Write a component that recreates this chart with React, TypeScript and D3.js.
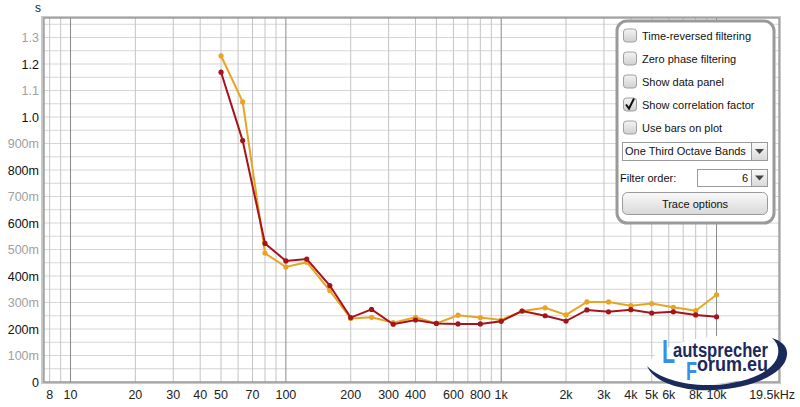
import React from "react";
import * as d3 from "d3";

// one-third octave band centres (Hz)
const bands = [50, 63, 80, 100, 125, 160, 200, 250, 315, 400, 500, 630, 800, 1000, 1250, 1600, 2000, 2500, 3150, 4000, 5000, 6300, 8000, 10000];
const redSeries = [1.169, 0.911, 0.523, 0.457, 0.464, 0.364, 0.243, 0.274, 0.218, 0.234, 0.221, 0.219, 0.219, 0.229, 0.268, 0.25, 0.23, 0.272, 0.265, 0.273, 0.26, 0.265, 0.253, 0.246];
const orangeSeries = [1.231, 1.057, 0.486, 0.434, 0.452, 0.345, 0.24, 0.244, 0.224, 0.244, 0.221, 0.252, 0.243, 0.234, 0.268, 0.28, 0.253, 0.302, 0.302, 0.288, 0.296, 0.282, 0.269, 0.329];

const xTickVals = [8, 10, 20, 30, 40, 50, 70, 100, 200, 300, 400, 600, 800, 1000, 2000, 3000, 4000, 5000, 6000, 8000, 10000];
const xTickText = ["8", "10", "20", "30", "40", "50", "70", "100", "200", "300", "400", "600", "800", "1k", "2k", "3k", "4k", "5k", "6k", "8k", "10k"];
const yTickVals = [0, 0.1, 0.2, 0.3, 0.4, 0.5, 0.6, 0.7, 0.8, 0.9, 1.0, 1.1, 1.2, 1.3];
const yTickText = ["0", "100m", "200m", "300m", "400m", "500m", "600m", "700m", "800m", "900m", "1.0", "1.1", "1.2", "1.3"];
const checkLabels = ["Time-reversed filtering", "Zero phase filtering", "Show data panel", "Show correlation factor", "Use bars on plot"];
const checked = [false, false, false, true, false];

const W = 800, H = 407;
const left = 44, right = 779, top = 18, bottom = 382;

export default function App() {
  const x = d3.scaleLog().domain([7.53, 19500]).range([left, right]);
  const y = d3.scaleLinear().domain([0, 1.3736]).range([bottom, top]);

  const vgrid: number[] = [];
  for (let e = 0; e <= 4; e++) {
    for (let m = 1; m <= 9; m++) {
      const v = m * Math.pow(10, e);
      if (v >= 8 && v <= 19500) vgrid.push(v);
    }
  }
  const hgrid = d3.range(0, 1.37, 0.05);
  const isDecade = (v: number) => Math.abs(Math.log10(v) - Math.round(Math.log10(v))) < 1e-9;

  const line = d3.line<number>().x((d, i) => x(bands[i])).y(d => y(d));
  const font = "'Liberation Sans', Arial, sans-serif";

  return (
    <svg width={W} height={H} style={{ position: "absolute", left: 0, top: 0, background: "#fff" }} fontFamily={font}>
      <defs>
        <linearGradient id="cb" x1="0" y1="0" x2="0" y2="1">
          <stop offset="0" stopColor="#f4f4f4" />
          <stop offset="1" stopColor="#d0d0d0" />
        </linearGradient>
        <linearGradient id="btn" x1="0" y1="0" x2="0" y2="1">
          <stop offset="0" stopColor="#fafafa" />
          <stop offset="1" stopColor="#d8d8d8" />
        </linearGradient>
      </defs>
      <rect width={W} height={H} fill="#fff" />
      {/* frame shadow */}
      <rect x={left - 3} y={top - 2} width={right - left + 5} height={bottom - top + 4} fill="#c8c8c8" />
      <rect x={left} y={top} width={right - left} height={bottom - top} fill="#fff" />

      {hgrid.map((v, i) => (
        <line key={"h" + i} x1={left} x2={right} y1={y(v)} y2={y(v)} stroke="#d6d6d6" strokeWidth={1} />
      ))}
      {vgrid.map(v => (
        <line key={"v" + v} x1={x(v)} x2={x(v)} y1={top} y2={bottom} stroke={isDecade(v) ? "#8a8a8a" : "#c4c4c4"} strokeWidth={1} />
      ))}
      <rect x={left} y={top} width={right - left} height={bottom - top} fill="none" stroke="#8c8c8c" strokeWidth={1.2} />

      {/* y axis */}
      <text x={38} y={12} textAnchor="middle" fontSize={12} fill="#222">s</text>
      {yTickVals.map((v, i) => (
        <text key={"yt" + i} x={39} y={y(v) + 4.5} textAnchor="end" fontSize={12.5} fill={i % 2 === 0 ? "#111" : "#a0a0a0"}>{yTickText[i]}</text>
      ))}
      {/* x axis */}
      {xTickVals.map((v, i) => (
        <text key={"xt" + i} x={x(v)} y={399} textAnchor="middle" fontSize={12.5} fill="#222">{xTickText[i]}</text>
      ))}
      <text x={795} y={399} textAnchor="end" fontSize={12.5} fill="#222">19.5kHz</text>

      {/* series */}
      <path d={line(orangeSeries) || ""} fill="none" stroke="#e8a423" strokeWidth={2} />
      {orangeSeries.map((v, i) => <circle key={"o" + i} cx={x(bands[i])} cy={y(v)} r={2.6} fill="#e8a423" />)}
      <path d={line(redSeries) || ""} fill="none" stroke="#a5141a" strokeWidth={2} />
      {redSeries.map((v, i) => <circle key={"r" + i} cx={x(bands[i])} cy={y(v)} r={2.6} fill="#a5141a" />)}

      {/* control panel */}
      <rect x={617} y={21} width={157} height={202} rx={10} fill="#fff" stroke="#9a9a9a" strokeWidth={3} />
      {checkLabels.map((t, i) => {
        const cy = 35.5 + i * 23;
        return (
          <g key={"cb" + i}>
            <rect x={623.5} y={cy - 6.5} width={13} height={13} rx={3} fill="url(#cb)" stroke="#a0a0a0" />
            {checked[i] && <path d={`M${626} ${cy} L${629} ${cy + 4} L${634} ${cy - 6}`} fill="none" stroke="#111" strokeWidth={2} />}
            <text x={642} y={cy + 4} fontSize={11} fill="#111">{t}</text>
          </g>
        );
      })}
      <rect x={622.5} y={142.5} width={145} height={18} fill="#fff" stroke="#9a9a9a" />
      <rect x={751.5} y={142.5} width={16} height={18} fill="url(#btn)" stroke="#9a9a9a" />
      <path d="M755 149 L764 149 L759.5 154 Z" fill="#444" />
      <text x={625} y={155} fontSize={11} fill="#111">One Third Octave Bands</text>
      <text x={620} y={181.5} fontSize={11} fill="#111">Filter order:</text>
      <rect x={697.5} y={169.5} width={70} height={17} fill="#fff" stroke="#9a9a9a" />
      <rect x={751.5} y={169.5} width={16} height={17} fill="url(#btn)" stroke="#9a9a9a" />
      <path d="M755 175.5 L764 175.5 L759.5 180.5 Z" fill="#444" />
      <text x={748} y={182} textAnchor="end" fontSize={11} fill="#111">6</text>
      <rect x={622.5} y={192.5} width={145} height={22} rx={5} fill="url(#btn)" stroke="#9a9a9a" />
      <text x={695} y={207.5} textAnchor="middle" fontSize={11} fill="#111">Trace options</text>

      {/* logo */}
      <ellipse cx={716} cy={360} rx={68} ry={24} fill="#fff" transform="rotate(-6 716 360)" />
      <path d="M647 366 C 655 385, 690 392, 715 390 C 750 388, 785 375, 787 355 C 788 347, 782 341, 772 338 C 778 343, 780 350, 777 358 C 770 375, 740 384, 712 385 C 685 386, 658 378, 647 366 Z" fill="#1a2a5a" />
      <text x={662} y={363} fontSize={34} fontWeight="bold" fill="#3a8ee6" textLength={13} lengthAdjust="spacingAndGlyphs">L</text>
      <text x={673} y={357} fontSize={20} fontWeight="bold" fill="#1a2a5a" textLength={95} lengthAdjust="spacingAndGlyphs">autsprecher</text>
      <text x={686} y={380} fontSize={25} fontWeight="bold" fill="#3a8ee6" textLength={11} lengthAdjust="spacingAndGlyphs">F</text>
      <text x={697} y={371} fontSize={20} fontWeight="bold" fill="#1a2a5a" textLength={71} lengthAdjust="spacingAndGlyphs">orum.eu</text>
    </svg>
  );
}
